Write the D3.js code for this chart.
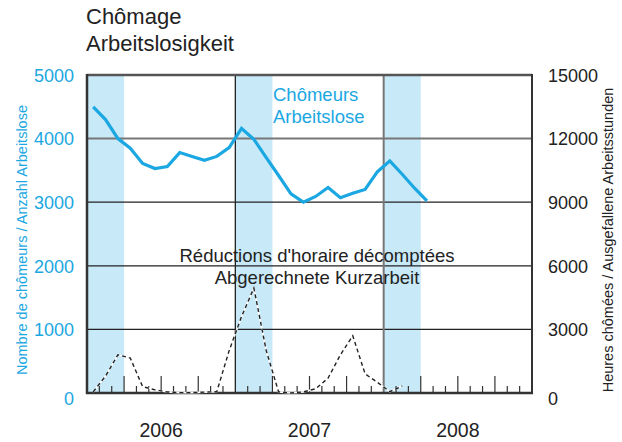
<!DOCTYPE html>
<html lang="fr">
<head>
  <meta charset="utf-8">
  <title>Chômage</title>
  <script src="https://d3js.org/d3.v7.min.js"></script>
  <style>
    body { margin: 0; background: #fff; }
    text { font-family: "Liberation Sans", Arial, sans-serif; }
  </style>
</head>
<body>
<script>
  // data, monthly from Jan 2006
  var years = ["2006", "2007", "2008"];
  var unemployed = [4500, 4300, 4000, 3850, 3610, 3530, 3560, 3780, 3720, 3660, 3720, 3860,
                    4160, 3990, 3700, 3420, 3130, 3000, 3090, 3230, 3070, 3140, 3200, 3480,
                    3650, 3440, 3220, 3020];
  var shortTimeHours = [50, 800, 1800, 1650, 300, 150, 50, 20, 20, 40, 60, 2000,
                        3600, 4950, 2000, 50, 0, 50, 200, 700, 1800, 2700, 900, 500,
                        60, 330];
  var leftTicks = [0, 1000, 2000, 3000, 4000, 5000];
  var rightTicks = [0, 3000, 6000, 9000, 12000, 15000];
  var winterMonths = [0, 12, 24]; // start month of shaded quarter

  var width = 622, height = 442;
  var blue = "#1ba7e2";

  var svg = d3.select("body").append("svg")
    .attr("width", width)
    .attr("height", height);

  var x = d3.scaleLinear().domain([0, 36]).range([87, 532]);
  var yL = d3.scaleLinear().domain([0, 5000]).range([393, 75]);
  var yR = d3.scaleLinear().domain([0, 15000]).range([393, 75]);

  // shaded bands
  svg.append("g").selectAll("rect")
    .data(winterMonths)
    .enter().append("rect")
    .attr("x", function(d) { return x(d); })
    .attr("y", yL(5000))
    .attr("width", function(d) { return x(d + 3) - x(d); })
    .attr("height", yL(0) - yL(5000))
    .attr("fill", "#c8e9f8");

  // gridlines
  svg.append("g").selectAll("line")
    .data([1000, 2000, 3000, 4000])
    .enter().append("line")
    .attr("x1", x(0)).attr("x2", x(36))
    .attr("y1", function(d) { return yL(d); })
    .attr("y2", function(d) { return yL(d); })
    .attr("stroke", function(d) { return d == 4000 ? "#777" : "#222"; })
    .attr("stroke-width", function(d) { return d == 4000 ? 2 : 1.3; });

  // year separators
  svg.append("g").selectAll("line")
    .data([12, 24])
    .enter().append("line")
    .attr("x1", function(d) { return x(d); })
    .attr("x2", function(d) { return x(d); })
    .attr("y1", yL(5000)).attr("y2", yL(0))
    .attr("stroke", function(d) { return d == 24 ? "#777" : "#222"; })
    .attr("stroke-width", function(d) { return d == 24 ? 2 : 1.3; });

  // month ticks on the bottom, taller each quarter
  svg.append("g").selectAll("line")
    .data(d3.range(1, 36).filter(function(m) { return m % 12 != 0; }))
    .enter().append("line")
    .attr("x1", function(d) { return x(d); })
    .attr("x2", function(d) { return x(d); })
    .attr("y1", yL(0))
    .attr("y2", function(d) { return yL(0) - (d % 3 == 0 ? 17 : 7); })
    .attr("stroke", "#333")
    .attr("stroke-width", 1.2);

  // frame
  svg.append("line").attr("x1", x(0)).attr("x2", x(36)).attr("y1", yL(5000)).attr("y2", yL(5000))
    .attr("stroke", "#555").attr("stroke-width", 2.5);
  svg.append("line").attr("x1", x(36)).attr("x2", x(36)).attr("y1", yL(5000) - 1).attr("y2", yL(0))
    .attr("stroke", "#333").attr("stroke-width", 2);
  svg.append("line").attr("x1", x(0)).attr("x2", x(0)).attr("y1", yL(5000) - 1).attr("y2", yL(0) + 1)
    .attr("stroke", "#333").attr("stroke-width", 2.5);
  svg.append("line").attr("x1", x(0) - 1).attr("x2", x(36) + 1).attr("y1", yL(0)).attr("y2", yL(0))
    .attr("stroke", "#333").attr("stroke-width", 2.5);

  // short-time work, dashed on white
  var hoursLine = d3.line()
    .x(function(d, i) { return x(i + 0.5); })
    .y(function(d) { return yR(d); });
  svg.append("path")
    .datum(shortTimeHours)
    .attr("d", hoursLine)
    .attr("fill", "none")
    .attr("stroke", "#fff")
    .attr("stroke-width", 1.6);
  svg.append("path")
    .datum(shortTimeHours)
    .attr("d", hoursLine)
    .attr("fill", "none")
    .attr("stroke", "#222")
    .attr("stroke-width", 1.4)
    .attr("stroke-dasharray", "4,3");

  // unemployed
  var unempLine = d3.line()
    .x(function(d, i) { return x(i + 0.5); })
    .y(function(d) { return yL(d); });
  svg.append("path")
    .datum(unemployed)
    .attr("d", unempLine)
    .attr("fill", "none")
    .attr("stroke", blue)
    .attr("stroke-width", 3.2)
    .attr("stroke-linejoin", "miter");

  // axes
  var leftAxis = svg.append("g")
    .attr("transform", "translate(" + x(0) + ",0)")
    .call(d3.axisLeft(yL).tickValues(leftTicks).tickSize(0).tickPadding(13).tickFormat(d3.format("d")));
  var rightAxis = svg.append("g")
    .attr("transform", "translate(" + x(36) + ",0)")
    .call(d3.axisRight(yR).tickValues(rightTicks).tickSize(0).tickPadding(16).tickFormat(d3.format("d")));
  [leftAxis, rightAxis].forEach(function(a) {
    a.select(".domain").remove();
    a.selectAll("text")
      .style("font-family", "'Liberation Sans', Arial, sans-serif")
      .style("font-size", "18px")
      .attr("dy", function(d) { return d == 0 ? "0.62em" : "0.35em"; });
  });
  leftAxis.selectAll("text").attr("fill", blue);
  rightAxis.selectAll("text").attr("fill", "#222");

  // year labels
  svg.append("g").selectAll("text")
    .data(years)
    .enter().append("text")
    .attr("x", function(d, i) { return x(i * 12 + 6); })
    .attr("y", 437)
    .attr("text-anchor", "middle")
    .attr("font-size", 19.5)
    .attr("fill", "#222")
    .text(function(d) { return d; });

  // title
  svg.append("text").attr("x", 86).attr("y", 24).attr("font-size", 22).attr("fill", "#222").text("Chômage");
  svg.append("text").attr("x", 86).attr("y", 51).attr("font-size", 22).attr("fill", "#222").text("Arbeitslosigkeit");

  // axis titles
  svg.append("text")
    .attr("transform", "translate(27,240) rotate(-90)")
    .attr("text-anchor", "middle")
    .attr("font-size", 14.5)
    .attr("fill", blue)
    .text("Nombre de chômeurs / Anzahl Arbeitslose");
  svg.append("text")
    .attr("transform", "translate(613,240) rotate(-90)")
    .attr("text-anchor", "middle")
    .attr("font-size", 14.5)
    .attr("fill", "#222")
    .text("Heures chômées / Ausgefallene Arbeitsstunden");

  // series labels
  svg.append("text").attr("x", 273).attr("y", 101).attr("font-size", 18.5).attr("fill", blue).text("Chômeurs");
  svg.append("text").attr("x", 273).attr("y", 123).attr("font-size", 18.5).attr("fill", blue).text("Arbeitslose");
  svg.append("text").attr("x", 317).attr("y", 262).attr("text-anchor", "middle").attr("font-size", 18.5)
    .attr("fill", "#222").text("Réductions d'horaire décomptées");
  svg.append("text").attr("x", 317).attr("y", 284).attr("text-anchor", "middle").attr("font-size", 18.5)
    .attr("fill", "#222").text("Abgerechnete Kurzarbeit");
</script>
</body>
</html>
